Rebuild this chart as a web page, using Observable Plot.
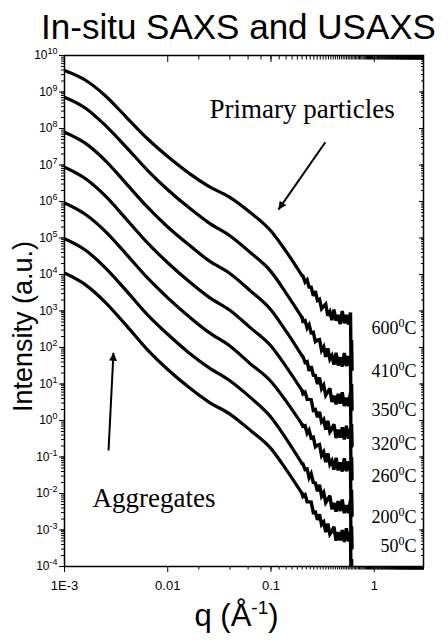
<!DOCTYPE html>
<html><head><meta charset="utf-8">
<script src="https://cdn.jsdelivr.net/npm/d3@7"></script>
<script src="https://cdn.jsdelivr.net/npm/@observablehq/plot@0.6"></script>
<style>body{margin:0;background:#fff}</style>
</head><body><div id="chart"></div>
<script>
// Series (temperatures), top to bottom
const temps = ["600", "410", "350", "320", "260", "200", "50"];
const tempLabels = ["600^0C", "410^0C", "350^0C", "320^0C", "260^0C", "200^0C", "50^0C"];

// Smooth low-q part: q (1/Å) and intensity (a.u.)
const qSmooth = [0.001, 0.0016, 0.0025, 0.004, 0.0063, 0.01, 0.016, 0.025, 0.04, 0.063, 0.1, 0.14, 0.2];
const I600 = [3.9e9, 2.1e9, 7.8e8, 2.0e8, 5.4e7, 1.7e7, 6.0e6, 2.6e6, 1.3e6, 5.0e5, 1.55e5, 4.3e4, 9.3e3];
const I410 = [7.2e8, 3.6e8, 1.2e8, 3.0e7, 7.4e6, 2.1e6, 6.8e5, 2.6e5, 1.15e5, 4.0e4, 1.2e4, 3.1e3, 6.6e2];
const I350 = [7.9e7, 3.9e7, 1.3e7, 3.0e6, 7.2e5, 2.0e5, 6.5e4, 2.4e4, 1.07e4, 3.6e3, 1.07e3, 2.8e2, 59];
const I320 = [8.7e6, 4.2e6, 1.4e6, 3.2e5, 7.6e4, 2.1e4, 6.5e3, 2.4e3, 1.05e3, 3.5e2, 1.1e2, 30, 6.6];
const I260 = [9.1e5, 4.4e5, 1.5e5, 3.5e4, 8.3e3, 2.3e3, 7.1e2, 2.6e2, 1.1e2, 36, 11.7, 3.4, 0.78];
const I200 = [9.5e4, 4.6e4, 1.5e4, 3.5e3, 8.1e2, 2.3e2, 72, 28, 12.3, 4.3, 1.23, 0.32, 0.066];
const I50  = [1.1e4, 5.2e3, 1.7e3, 3.9e2, 89, 25, 8.1, 3.2, 1.5, 0.54, 0.17, 0.046, 0.010];

// Noisy high-q part (last three points: the drop at the end of the data)
const qNoise = [0.204, 0.214, 0.224, 0.234, 0.245, 0.257, 0.269, 0.282, 0.295, 0.309, 0.324, 0.339,
  0.355, 0.372, 0.389, 0.407, 0.427, 0.447, 0.468, 0.490, 0.513, 0.537, 0.562, 0.589, 0.596, 0.603, 0.610];
const N600 = [9.1e3, 6.2e3, 7.2e3, 4.5e3, 4.5e3, 2.6e3, 3.5e3, 1.95e3, 2.1e3, 1.15e3, 1.35e3, 1.55e3,
  7.4e2, 9.5e2, 5.6e2, 1.1e3, 5.4e2, 7.8e2, 4.4e2, 1.0e3, 4.6e2, 7.8e2, 4.3e2, 9.1e2, 32, 160, 25];
const N410 = [5.2e2, 5.5e2, 3.4e2, 4.2e2, 2.5e2, 2.6e2, 1.45e2, 1.6e2, 1.65e2, 83, 1.05e2, 55,
  95, 48, 60, 34, 72, 32, 54, 30, 71, 31, 58, 30, 2.5, 10, 2.0];
const N350 = [56, 39, 41, 23, 31, 17.4, 17, 10, 15, 7.4, 9.3, 4.9,
  6.0, 7.6, 3.2, 4.8, 2.75, 5.4, 2.9, 5.9, 2.5, 4.2, 2.5, 5.8, 0.25, 0.8, 0.2];
const N320 = [5.4, 6.0, 3.8, 3.8, 3.7, 1.9, 2.0, 1.23, 1.74, 0.91, 1.07, 0.56,
  0.98, 0.49, 0.59, 0.79, 0.33, 0.56, 0.34, 0.65, 0.30, 0.72, 0.32, 0.59, 0.032, 0.1, 0.025];
const N260 = [0.69, 0.72, 0.45, 0.55, 0.33, 0.35, 0.19, 0.21, 0.22, 0.11, 0.138, 0.072,
  0.126, 0.063, 0.079, 0.045, 0.095, 0.043, 0.071, 0.040, 0.093, 0.041, 0.076, 0.039, 0.0032, 0.0126, 0.0025];
const N200 = [0.065, 0.045, 0.047, 0.027, 0.035, 0.020, 0.0195, 0.0115, 0.0174, 0.0085, 0.0107, 0.0056,
  0.0069, 0.0087, 0.0037, 0.0055, 0.0032, 0.0062, 0.0033, 0.0068, 0.0029, 0.0048, 0.0029, 0.0066, 0.0004, 0.00126, 0.00032];
const N50  = [0.0083, 0.0093, 0.0059, 0.0059, 0.0058, 0.0030, 0.0031, 0.0019, 0.0027, 0.0014, 0.00166, 0.00087,
  0.0015, 0.00076, 0.00091, 0.00123, 0.00051, 0.00087, 0.00052, 0.0010, 0.00047, 0.00112, 0.00049, 0.00091, 3e-5, 1.6e-4, 3e-5];

// Axis ticks and labels
const xMajor = [0.001, 0.01, 0.1, 1];
const xTickLabels = ["1E-3", "0.01", "0.1", "1"];
const yMajor = [1e-4, 1e-3, 1e-2, 1e-1, 1e0, 1e1, 1e2, 1e3, 1e4, 1e5, 1e6, 1e7, 1e8, 1e9, 1e10];
const yTickLabels = ["10^-4", "10^-3", "10^-2", "10^-1", "10^0", "10^1", "10^2", "10^3", "10^4", "10^5", "10^6", "10^7", "10^8", "10^9", "10^10"];

// Annotations (data coordinates)
const noteText = ["Primary particles", "Aggregates"];
const noteQ = [0.0254, 0.00187];
const noteI = [2.0e8, 4.2e-3];
const arrowFromQ = [0.336, 0.00267];
const arrowFromI = [4.2e7, 0.15];
const arrowToQ = [0.118, 0.00298];
const arrowToI = [6.0e5, 72];

// Build tables
const smoothSets = [I600, I410, I350, I320, I260, I200, I50];
const noiseSets = [N600, N410, N350, N320, N260, N200, N50];
const nLast = qSmooth.length - 1;
const smoothRows = temps.flatMap((t, k) => qSmooth.map((q, i) => ({temp: t, q, I: smoothSets[k][i]})));
const noiseRows = temps.flatMap((t, k) => [
  {temp: t, q: qSmooth[nLast], I: smoothSets[k][nLast]},
  ...qNoise.map((q, i) => ({temp: t, q, I: noiseSets[k][i]}))
]);
// each label sits just under the floor of its curve's noisy tail
const labelRows = temps.map((t, k) => ({label: tempLabels[k], I: d3.min(noiseSets[k].slice(-11, -3))}));
const noteRows = noteText.map((text, i) => ({text, q: noteQ[i], I: noteI[i]}));
const arrowRows = arrowFromQ.map((q, i) => ({x1: q, y1: arrowFromI[i], x2: arrowToQ[i], y2: arrowToI[i]}));

const blank = () => "";
const chart = Plot.plot({
  width: 448,
  height: 640,
  marginTop: 55,
  marginBottom: 74,
  marginLeft: 64,
  marginRight: 25,
  style: {fontFamily: "Liberation Sans, Arial, sans-serif", background: "#fff", color: "#000"},
  x: {type: "log", domain: [1e-3, 3]},
  y: {type: "log", domain: [1e-4, 1e10]},
  marks: [
    // axes
    Plot.axisX({ticks: 100, tickSize: 3.5, tickFormat: blank, label: null}),
    Plot.axisX({ticks: xMajor, tickSize: 6, tickPadding: 8, fontSize: 13,
      tickFormat: d => xTickLabels[xMajor.indexOf(d)], label: null}),
    Plot.axisX({anchor: "top", ticks: 100, tickSize: -3.5, tickFormat: blank, label: null}),
    Plot.axisX({anchor: "top", ticks: xMajor, tickSize: -6, tickFormat: blank, label: null}),
    Plot.axisY({ticks: 200, tickSize: 3, tickFormat: blank, label: null}),
    Plot.axisY({ticks: yMajor, tickSize: 5, tickPadding: 2, fontSize: 12,
      tickFormat: d => yTickLabels[yMajor.indexOf(d)], label: null}),
    Plot.axisY({anchor: "right", ticks: 200, tickSize: -3, tickFormat: blank, label: null}),
    Plot.axisY({anchor: "right", ticks: yMajor, tickSize: -5, tickFormat: blank, label: null}),
    Plot.frame({stroke: "#000", strokeWidth: 1.5}),
    // data
    Plot.line(smoothRows, {x: "q", y: "I", z: "temp", curve: "monotone-x", stroke: "#000", strokeWidth: 3.2, clip: true}),
    Plot.line(noiseRows, {x: "q", y: "I", z: "temp", curve: "linear", stroke: "#000", strokeWidth: 3.4,
      strokeLinejoin: "miter", strokeMiterlimit: 3, clip: true}),
    // temperature labels
    Plot.text(labelRows, {y: "I", text: "label", frameAnchor: "right", dx: -7, dy: 10, textAnchor: "end",
      lineAnchor: "bottom", fontFamily: "Liberation Serif, Times New Roman, serif", fontSize: 18,
      ariaDescription: "temp-label"}),
    // annotations
    Plot.text(noteRows, {x: "q", y: "I", text: "text", textAnchor: "start", lineAnchor: "bottom",
      fontFamily: "Liberation Serif, Times New Roman, serif", fontSize: 27}),
    Plot.link(arrowRows, {x1: "x1", y1: "y1", x2: "x2", y2: "y2", stroke: "#000", strokeWidth: 2,
      ariaDescription: "note-arrow"})
  ]
});

const svg = d3.select(chart);
// filled arrow heads
svg.append("defs").append("marker")
  .attr("id", "ahead").attr("viewBox", "0 0 10 10").attr("refX", 10).attr("refY", 5)
  .attr("markerUnits", "userSpaceOnUse").attr("markerWidth", 14).attr("markerHeight", 8)
  .attr("orient", "auto")
  .append("path").attr("d", "M0,0L10,5L0,10Z").attr("fill", "#000");
svg.selectAll('g[aria-description="note-arrow"] path').attr("marker-end", "url(#ahead)");

// superscripts in labels
function supify(sel, supSize, shift) {
  sel.each(function() {
    const s = this.textContent;
    if (!s.includes("^")) return;
    const m = s.match(/^(.*?)\^(-?\d+)(.*)$/);
    const t = d3.select(this);
    t.text(m[1]);
    t.append("tspan").attr("dy", -shift).attr("font-size", supSize).text(m[2]);
    if (m[3]) t.append("tspan").attr("dy", shift).text(m[3]);
  });
}
supify(svg.selectAll('g[aria-label="y-axis tick label"] text'), 9, 5);
supify(svg.selectAll('g[aria-description="temp-label"] text'), 12, 7);

// title and axis titles
svg.append("text").attr("x", 238.5).attr("y", 39).attr("text-anchor", "middle")
  .attr("font-size", 35).attr("font-family", "Liberation Sans, Arial, sans-serif").attr("fill", "#000")
  .text("In-situ SAXS and USAXS");
svg.append("text").attr("transform", "translate(32,326.5) rotate(-90)").attr("text-anchor", "middle")
  .attr("font-size", 27).attr("font-family", "Liberation Sans, Arial, sans-serif").attr("fill", "#000")
  .text("Intensity (a.u.)");
const xl = svg.append("text").attr("x", 236.5).attr("y", 626).attr("text-anchor", "middle")
  .attr("font-size", 31).attr("font-family", "Liberation Sans, Arial, sans-serif").attr("fill", "#000");
xl.append("tspan").text("q (Å");
xl.append("tspan").attr("dy", -12).attr("font-size", 19).text("-1");
xl.append("tspan").attr("dy", 12).text(")");

document.getElementById("chart").appendChild(chart);
</script>
</body></html>
